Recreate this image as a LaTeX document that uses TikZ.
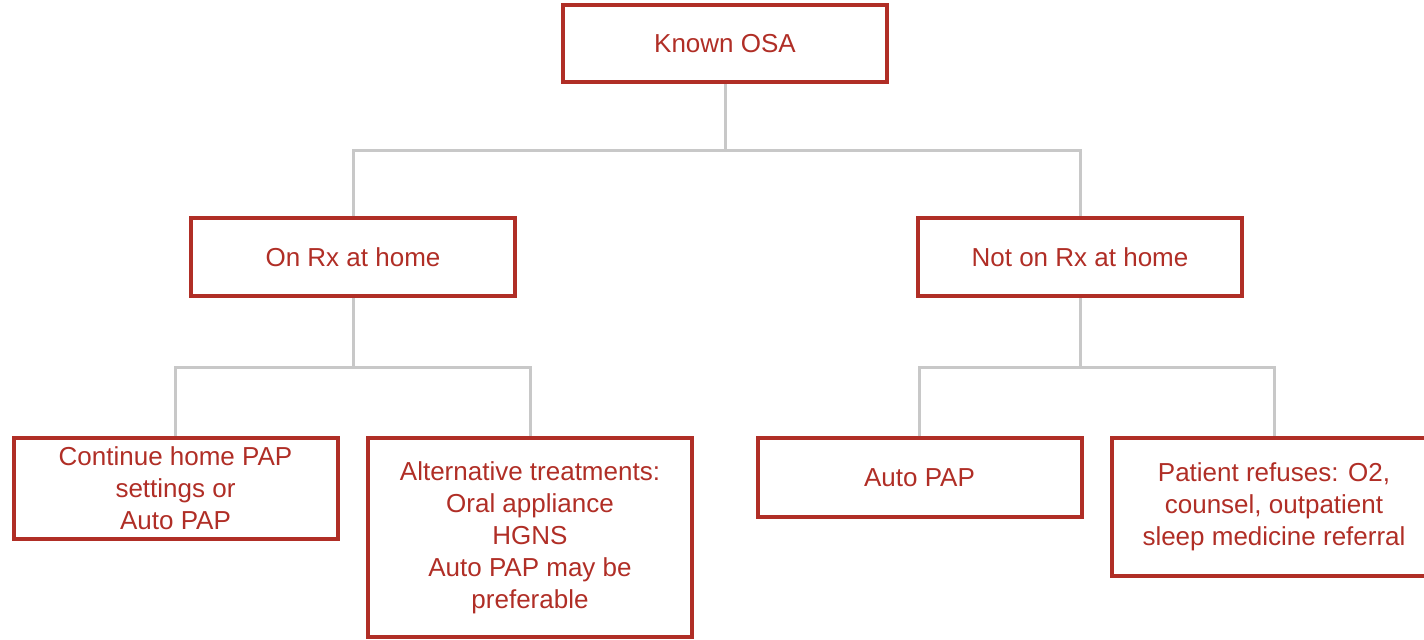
\documentclass[tikz,border=0pt]{standalone}
\usepackage{fontspec}
\setmainfont{Liberation Sans}
\usetikzlibrary{calc}

\definecolor{osared}{RGB}{176,46,38}
\definecolor{linkgray}{RGB}{200,200,200}

\begin{document}
\begin{tikzpicture}[
        x=0.5pt, y=-0.5pt,
        box/.style={draw=osared, line width=2pt, text=osared, align=center,
            minimum width=162pt, inner sep=2pt, font=\fontsize{13}{16}\selectfont},
        link/.style={draw=linkgray, line width=1.5pt}
    ]

    \useasboundingbox (0,0) rectangle (1424,639);

    % top level
    \node[box, minimum height=38.5pt] (osa) at (725,43.5) {Known OSA};

    % second level
    \node[box, minimum height=39pt] (onrx) at (353,257) {On Rx at home};
    \node[box, minimum height=39pt] (notrx) at (1080,257) {Not on Rx at home};

    % third level
    \node[box, minimum height=50.5pt] (cont) at (175.5,488.5)
        {Continue home PAP\\settings or\\Auto PAP};
    \node[box, minimum height=99.5pt] (alt) at (530,537.5)
        {Alternative treatments:\\Oral appliance\\HGNS\\Auto PAP may be\\preferable};
    \node[box, minimum height=39.5pt] (auto) at (919.5,477.5) {Auto PAP};
    \node[box, minimum height=69pt] (refuse) at (1274,507)
        {Patient refuses: O2,\\counsel, outpatient\\sleep medicine referral};

    % split points
    \coordinate (s1) at (725,150);
    \coordinate (s2) at (353,367);
    \coordinate (s3) at (1080,367);

    \draw[link] (osa.south) -- (s1);
    \draw[link] (onrx.north) |- (s1) -| (notrx.north);
    \draw[link] (onrx.south) -- (s2);
    \draw[link] (cont.north) |- (s2) -| (alt.north);
    \draw[link] (notrx.south) -- (s3);
    \draw[link] (auto.north) |- (s3) -| (refuse.north);
\end{tikzpicture}
\end{document}
